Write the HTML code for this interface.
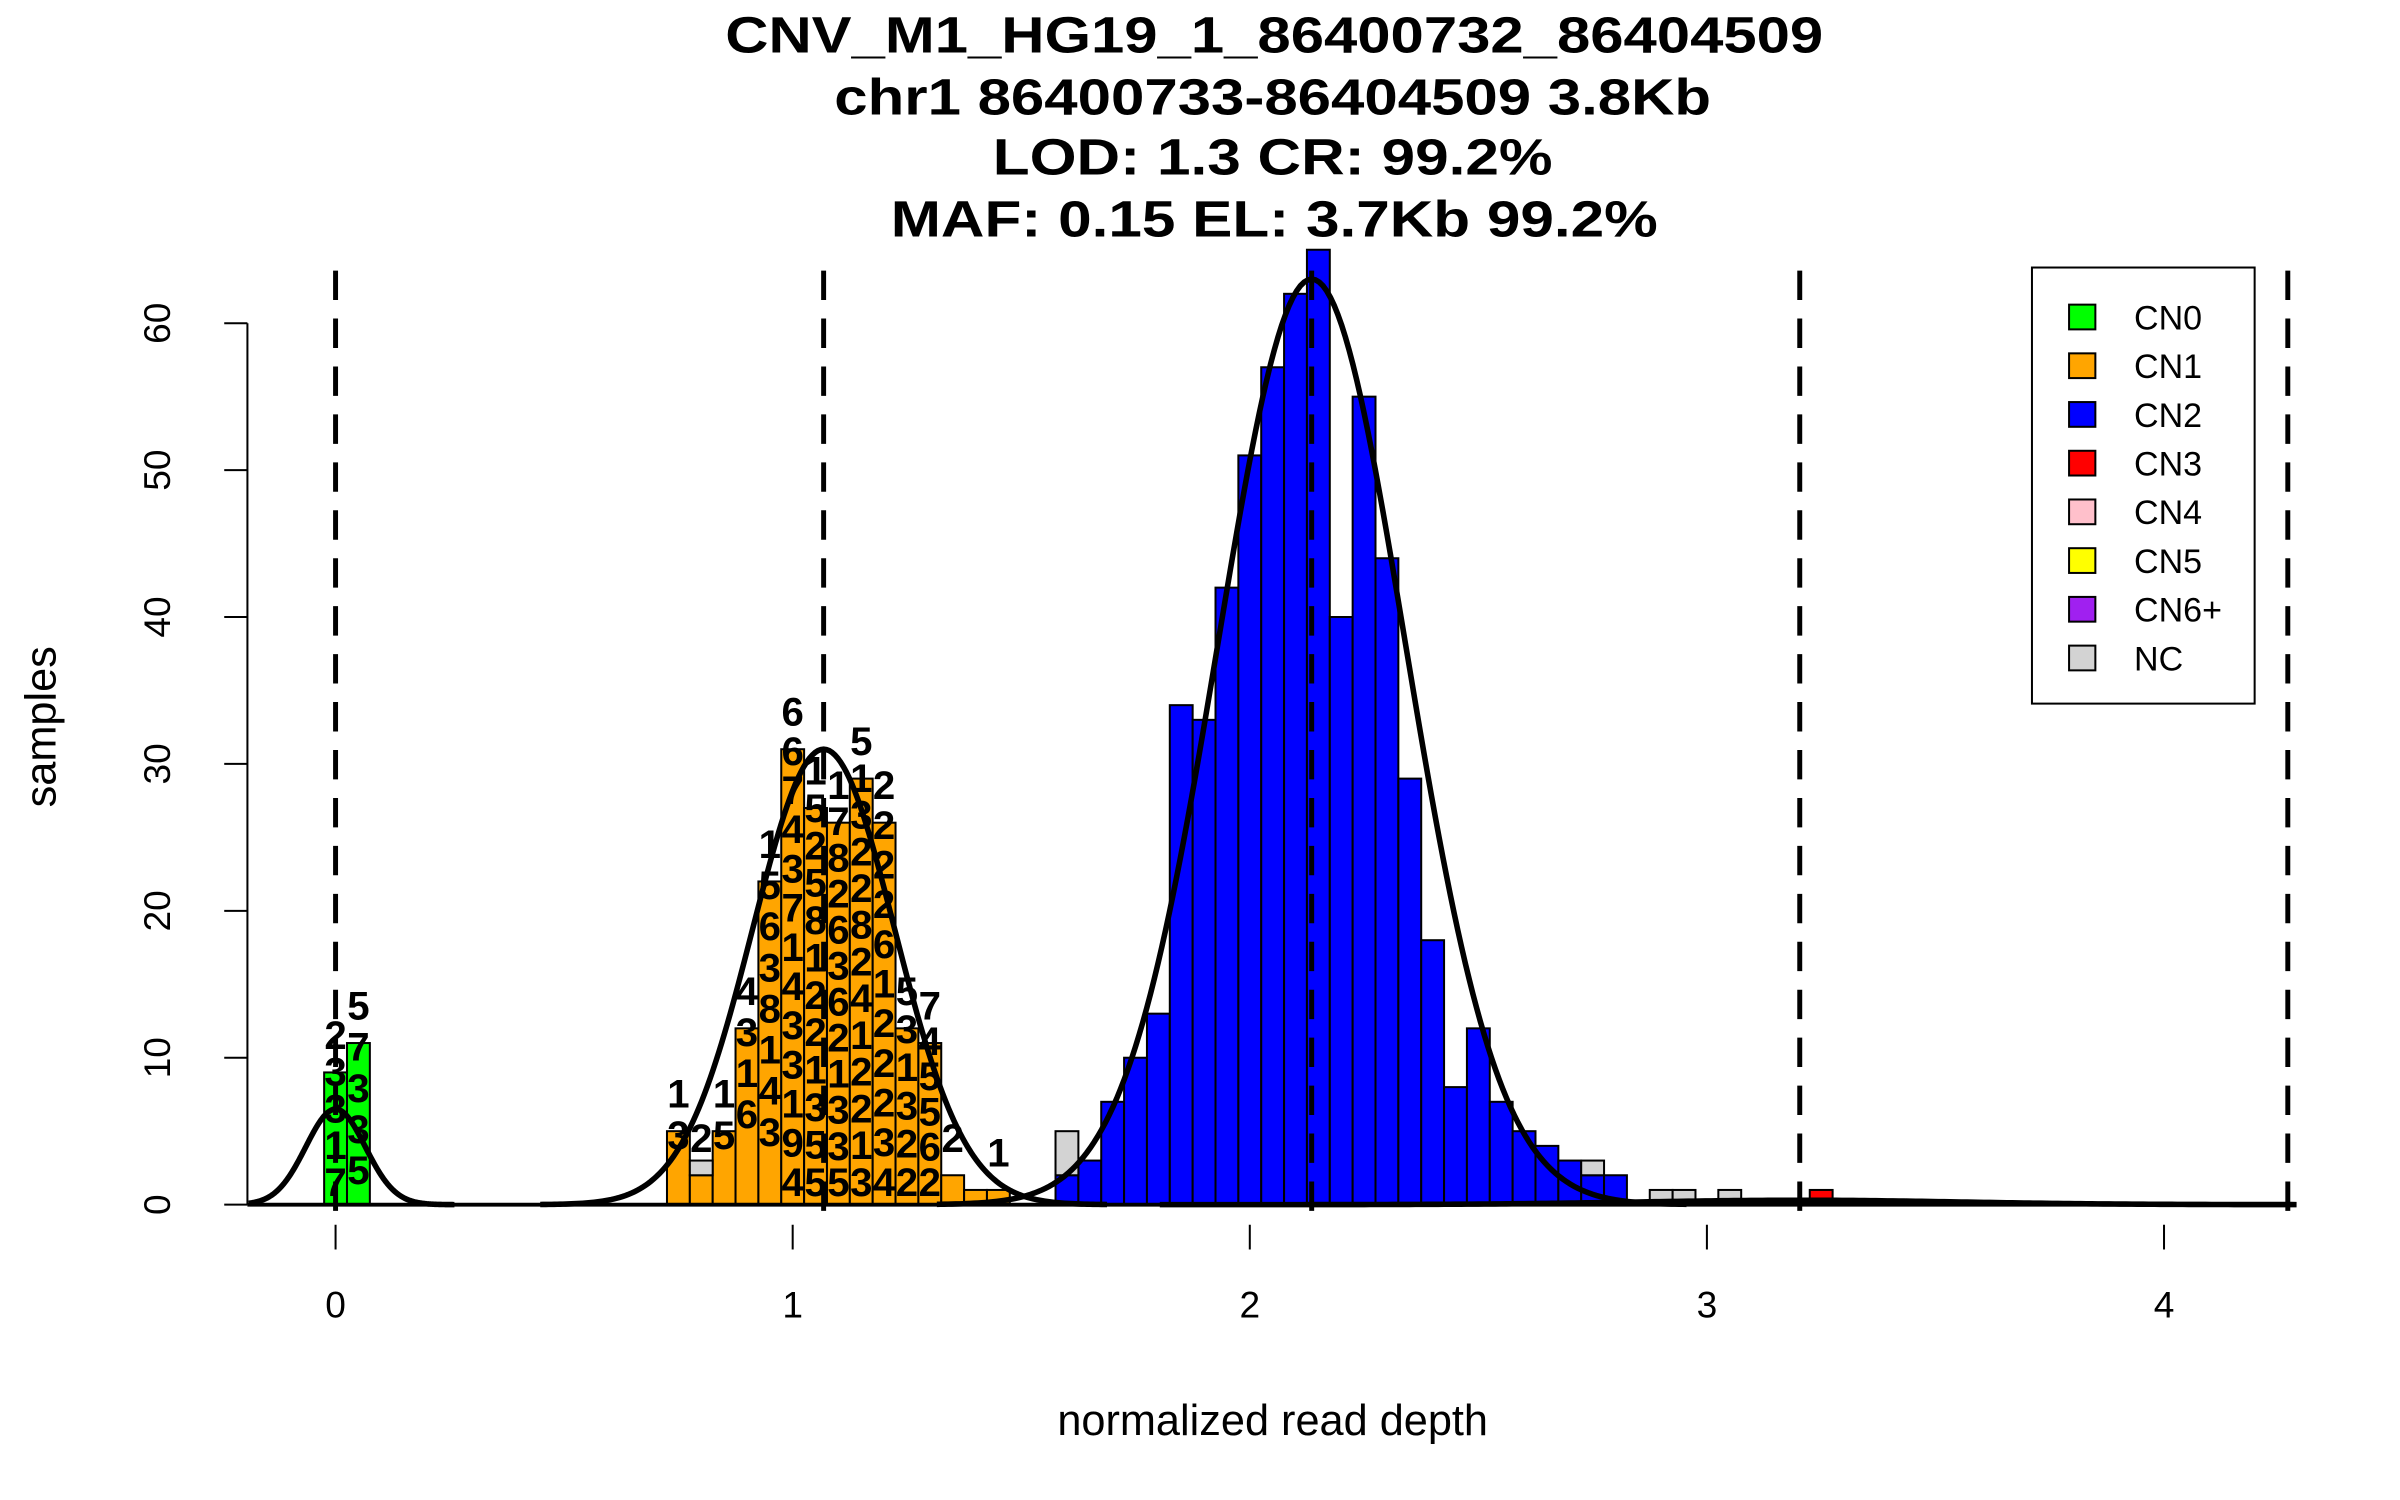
<!DOCTYPE html>
<html><head><meta charset="utf-8"><style>
html,body{margin:0;padding:0;background:#fff;}
svg{display:block;font-family:"Liberation Sans",sans-serif;}
</style></head><body>
<svg id="chart" width="2400" height="1500" viewBox="0 0 1552 970" xmlns="http://www.w3.org/2000/svg">
<g font-weight="bold" font-size="33" text-anchor="middle">
<text x="824" y="34" textLength="710" lengthAdjust="spacingAndGlyphs">CNV_M1_HG19_1_86400732_86404509</text>
<text x="823" y="74" textLength="567" lengthAdjust="spacingAndGlyphs">chr1 86400733-86404509 3.8Kb</text>
<text x="823" y="113" textLength="362" lengthAdjust="spacingAndGlyphs">LOD: 1.3 CR: 99.2%</text>
<text x="824" y="153" textLength="496" lengthAdjust="spacingAndGlyphs">MAF: 0.15 EL: 3.7Kb 99.2%</text>
</g>
<g id="bars"></g>
<g id="labels" font-weight="bold" font-size="26" text-anchor="middle"></g>
<g id="curves"></g>
<g id="dashes"></g>
<g id="axes"></g>
<text x="823" y="928" font-size="28" text-anchor="middle">normalized read depth</text>
<text transform="translate(36,470) rotate(-90)" font-size="28" text-anchor="middle">samples</text>
<g id="legend"></g>
</svg>
<script>
// ---- data ----
const binStart = -0.025;
const binWidth = 0.05;
const cn0Bins = [0, 1];
const cn0Counts = [9, 11];
const cn1Bins = [15,16,17,18,19,20,21,22,23,24,25,26,27,28,29];
const cn1Counts = [5,2,5,12,22,31,27,26,29,26,12,11,2,1,1];
const cn2Bins = [32,33,34,35,36,37,38,39,40,41,42,43,44,45,46,47,48,49,50,51,52,53,54,55,56];
const cn2Counts = [2,3,7,10,13,34,33,42,51,57,62,65,40,55,44,29,18,8,12,7,5,4,3,2,2];
const cn3Bins = [65];
const cn3Counts = [1];
const ncBins = [16,32,55,58,59,61];
const ncCounts = [1,3,1,1,1,1];
const cn1LabelBins = [15,16,17,18,19,20,21,22,23,24,25,26,27,29];
const cn1Labels = [
 ["1","3"],["2"],["1","5"],["4","3","1","6"],
 ["1","5","6","3","8","1","4","3"],
 ["6","6","7","4","3","7","1","4","3","3","1","9","4"],
 ["1","5","2","5","8","1","2","2","1","3","5","5"],
 ["1","7","8","2","6","3","6","2","1","3","3","5"],
 ["5","1","3","2","2","8","2","4","1","2","2","1","3"],
 ["2","2","2","2","6","1","2","2","2","3","4"],
 ["5","3","1","3","2","2"],["7","4","5","5","6","2"],["2"],["1"]];
const cn0Labels = [["2","3","3","1","7"],["5","7","3","3","5"]];
const compMeans = [0, 1.0677, 2.1354, 3.2031];
const compSds = [0.065, 0.155, 0.205, 0.35];
const compPeaks = [6.5, 31, 63, 0.3];
const guideLines = [0, 1.0677, 2.1354, 3.2031, 4.2708];
const xTicks = [0,1,2,3,4];
const yTicks = [0,10,20,30,40,50,60];
const legendNames = ["CN0","CN1","CN2","CN3","CN4","CN5","CN6+","NC"];
const legendColors = ["#00ff00","#ffa500","#0000ff","#ff0000","#ffc0cb","#ffff00","#a020f0","#d3d3d3"];

// ---- scales ----
const X = v => 217 + 295.6*v;
const Y = v => 779 - 9.5*v;
const NS = "http://www.w3.org/2000/svg";
function mk(tag, parent, attrs){const e=document.createElementNS(NS,tag);for(const k in attrs)e.setAttribute(k,attrs[k]);parent.appendChild(e);return e;}

const barsG = document.getElementById('bars');
function drawBars(bins, counts, base, color, name){
  bins.forEach((b,i)=>{
    const x0 = X(binStart + b*binWidth), x1 = X(binStart + (b+1)*binWidth);
    const lo = base ? base(b) : 0, hi = lo + counts[i];
    const r = mk('rect', barsG, {x:x0, y:Y(hi), width:x1-x0, height:Y(lo)-Y(hi), fill:color, stroke:'#000', 'stroke-width':1.3});
    
    
  });
}
drawBars(cn0Bins, cn0Counts, null, '#00ff00', 'cn0');
drawBars(cn1Bins, cn1Counts, null, '#ffa500', 'cn1');
drawBars(cn2Bins, cn2Counts, null, '#0000ff', 'cn2');
drawBars(cn3Bins, cn3Counts, null, '#ff0000', 'cn3');
function baseAt(b){
  let s=0;
  [[cn0Bins,cn0Counts],[cn1Bins,cn1Counts],[cn2Bins,cn2Counts],[cn3Bins,cn3Counts]].forEach(([bs,cs])=>{const j=bs.indexOf(b); if(j>=0) s+=cs[j];});
  return s;
}
drawBars(ncBins, ncCounts, baseAt, '#d3d3d3', 'nc');

const labG = document.getElementById('labels');
function drawLabels(bins, labels, counts, allBins){
  bins.forEach((b,i)=>{
    const cx = X(binStart + (b+0.5)*binWidth);
    const j = allBins.indexOf(b);
    const h = j>=0 ? counts[j] : 1;
    const list = labels[i], n = list.length;
    const top = h + 1.6, bottom = 0.6;
    const step = n>1 ? Math.min(2.8, (top-bottom)/(n-1)) : 0;
    list.forEach((s,k)=>{
      const t = mk('text', labG, {x:cx, y:Y(top - k*step)});
      t.textContent = s;
      
      
    });
  });
}
drawLabels(cn1LabelBins, cn1Labels, cn1Counts, cn1Bins);
drawLabels(cn0Bins, cn0Labels, cn0Counts, cn0Bins);

const axesG = document.getElementById('axes');
const bl = mk('line', axesG, {x1:160, y1:779, x2:1485, y2:779, stroke:'#000', 'stroke-width':2.5});



const curG = document.getElementById('curves');
compMeans.forEach((m,i)=>{
  const s = compSds[i], p = compPeaks[i];
  let lo = Math.max(m-4*s, -0.19), hi = Math.min(m+4*s, 4.29);
  let d = '';
  for(let k=0;k<=200;k++){
    const v = lo + (hi-lo)*k/200;
    const y = p*Math.exp(-((v-m)**2)/(2*s*s));
    d += (k?'L':'M') + X(v).toFixed(2) + ' ' + Y(y).toFixed(2);
  }
  const c = mk('path', curG, {d:d, fill:'none', stroke:'#000', 'stroke-width':3.6});
  
  
});

const dG = document.getElementById('dashes');
guideLines.forEach(v=>{
  const l = mk('line', dG, {x1:X(v), y1:175, x2:X(v), y2:790, stroke:'#000', 'stroke-width':3.2, 'stroke-dasharray':'19 12'});
  
  
});

const ya = mk('line', axesG, {x1:160, y1:Y(0), x2:160, y2:Y(60), stroke:'#000', 'stroke-width':1.3});


yTicks.forEach(v=>{
  const t = mk('line', axesG, {x1:145, y1:Y(v), x2:160, y2:Y(v), stroke:'#000', 'stroke-width':1.3});
  
  
  const lb = mk('text', axesG, {transform:`translate(110,${Y(v)}) rotate(-90)`, 'font-size':24, 'text-anchor':'middle'});
  lb.textContent = v;
  
  
});
xTicks.forEach(v=>{
  const t = mk('line', axesG, {x1:X(v), y1:792, x2:X(v), y2:808, stroke:'#000', 'stroke-width':1.3});
  
  
  const lb = mk('text', axesG, {x:X(v), y:852, 'font-size':24, 'text-anchor':'middle'});
  lb.textContent = v;
  
  
});

const lgG = document.getElementById('legend');
const box = mk('rect', lgG, {x:1314, y:173, width:144, height:282, fill:'#fff', stroke:'#000', 'stroke-width':1.3});


legendNames.forEach((n,i)=>{
  const y = 205 + i*31.5;
  const sq = mk('rect', lgG, {x:1338, y:y-8, width:17, height:16, fill:legendColors[i], stroke:'#000', 'stroke-width':1.3});
  
  
  const t = mk('text', lgG, {x:1380, y:y+8, 'font-size':22});
  t.textContent = n;
  
  
});
</script>
</body></html>
